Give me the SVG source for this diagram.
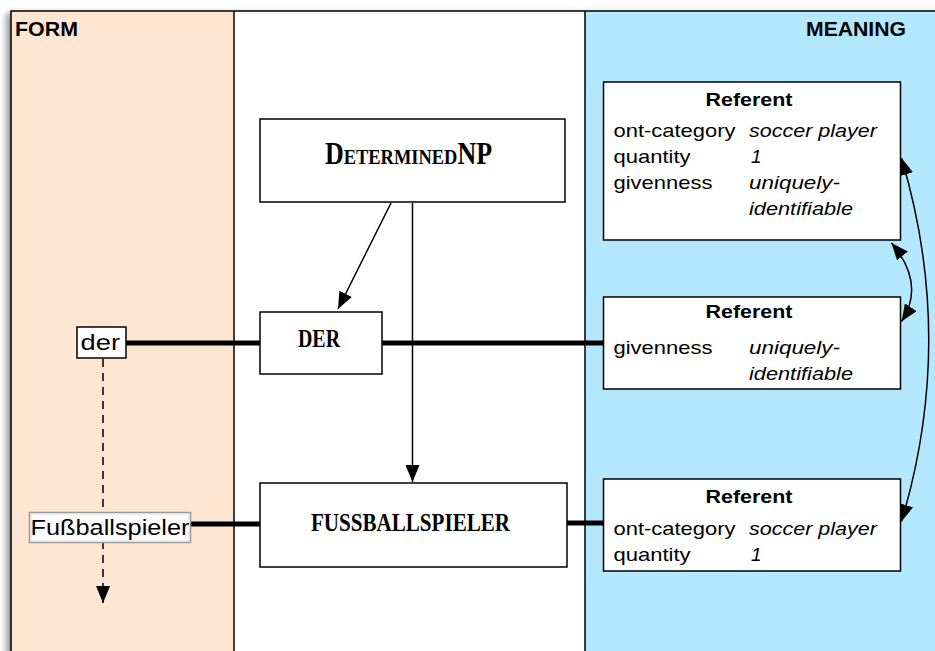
<svg xmlns="http://www.w3.org/2000/svg" width="935" height="651" viewBox="0 0 935 651">
  <style>
    .panel-line { stroke: #000; stroke-width: 1.5; fill: none; }
    .box { fill: #fff; stroke: #000; stroke-width: 1.5; }
    .hdr { font-family: "Liberation Sans", Arial, sans-serif; font-weight: bold; font-size: 20px; fill: #000; }
    .cx { font-family: "Liberation Serif", "Times New Roman", serif; font-weight: bold; fill: #000; }
    .form { font-family: "Liberation Sans", Arial, sans-serif; font-size: 22px; fill: #000; }
    .ref-t { font-family: "Liberation Sans", Arial, sans-serif; font-weight: bold; font-size: 19px; fill: #000; text-anchor: middle; }
    .attr { font-family: "Liberation Sans", Arial, sans-serif; font-size: 19px; fill: #000; }
    .val { font-family: "Liberation Sans", Arial, sans-serif; font-size: 19px; font-style: italic; fill: #000; }
    .link { stroke: #000; stroke-width: 5; fill: none; }
    .arrow { stroke: #000; stroke-width: 1.5; fill: none; }
  </style>
  <defs>
    <marker id="head" markerUnits="userSpaceOnUse" markerWidth="18" markerHeight="14" viewBox="0 0 18 14" refX="17" refY="7" orient="auto-start-reverse">
      <path d="M0,0 L17,7 L0,14 Z" fill="#000"/>
    </marker>
    <filter id="shadow" x="-5%" y="-5%" width="110%" height="110%">
      <feGaussianBlur stdDeviation="3"/>
    </filter>
  </defs>

  <rect width="935" height="651" fill="#fff"/>

  <!-- drop shadow of the sheet -->
  <rect x="6" y="13" width="940" height="660" fill="#999" filter="url(#shadow)"/>

  <!-- three columns -->
  <g id="panels">
    <rect x="11" y="11" width="223" height="650" fill="#FFE6D2"/>
    <rect x="234" y="11" width="351" height="650" fill="#fff"/>
    <rect x="585" y="11" width="360" height="650" fill="#B3E8FF"/>
    <path class="panel-line" d="M11,661 V11 H945 M234,11 V661 M585,11 V661"/>
    <text class="hdr" x="15" y="36" textLength="63" lengthAdjust="spacingAndGlyphs">FORM</text>
    <text class="hdr" x="806" y="36" textLength="100" lengthAdjust="spacingAndGlyphs">MEANING</text>
  </g>

  <!-- connectors -->
  <g id="connectors">
    <line class="link" x1="126" y1="343" x2="260" y2="343"/>
    <line class="link" x1="382" y1="343" x2="604" y2="343"/>
    <line class="link" x1="191" y1="524" x2="260" y2="524"/>
    <line class="link" x1="567" y1="523" x2="604" y2="523"/>
    <line class="arrow" x1="391" y1="203" x2="338" y2="309" marker-end="url(#head)"/>
    <line class="arrow" x1="412.5" y1="203" x2="412.5" y2="482" marker-end="url(#head)"/>
    <line class="arrow" x1="103" y1="359" x2="103" y2="603" stroke-dasharray="8,6" marker-end="url(#head)"/>
    <path class="arrow" d="M901.5,158 Q956,340 901.5,521.5" marker-start="url(#head)" marker-end="url(#head)"/>
    <path class="arrow" d="M891.5,243 Q926,284 901.5,321.5" marker-start="url(#head)" marker-end="url(#head)"/>
  </g>

  <!-- constructions -->
  <g id="determinednp">
    <rect class="box" x="260" y="119" width="305" height="83"/>
    <text class="cx" x="325" y="164" font-size="31" font-variant="small-caps" textLength="167" lengthAdjust="spacingAndGlyphs">DeterminedNP</text>
  </g>
  <g id="der-cxn">
    <rect class="box" x="260" y="312" width="122" height="62"/>
    <text class="cx" x="298" y="347" font-size="25" textLength="42" lengthAdjust="spacingAndGlyphs">DER</text>
  </g>
  <g id="fussballspieler-cxn">
    <rect class="box" x="260" y="483" width="307" height="84"/>
    <text class="cx" x="311" y="531" font-size="26" textLength="199" lengthAdjust="spacingAndGlyphs">FUSSBALLSPIELER</text>
  </g>

  <!-- word forms -->
  <g id="form-der">
    <rect class="box" x="77" y="327" width="49" height="31"/>
    <text class="form" x="80.5" y="350" textLength="39.5" lengthAdjust="spacingAndGlyphs">der</text>
  </g>
  <g id="form-fussballspieler">
    <rect x="29.5" y="512.5" width="161" height="30" fill="#fff" stroke="#999" stroke-width="1.5"/>
    <rect x="31" y="514" width="158" height="27" fill="none" stroke="#ddd" stroke-width="1"/>
    <text class="form" x="30.5" y="535" textLength="159" lengthAdjust="spacingAndGlyphs">Fußballspieler</text>
  </g>

  <!-- meaning frames -->
  <g id="referent-1">
    <rect class="box" x="603.5" y="82" width="297" height="158"/>
    <text class="ref-t" x="749" y="106" textLength="87" lengthAdjust="spacingAndGlyphs">Referent</text>
    <text class="attr" x="613.5" y="137" textLength="122" lengthAdjust="spacingAndGlyphs">ont-category</text>
    <text class="val" x="749" y="137" textLength="128" lengthAdjust="spacingAndGlyphs">soccer player</text>
    <text class="attr" x="613.5" y="163" textLength="77" lengthAdjust="spacingAndGlyphs">quantity</text>
    <text class="val" x="751" y="163">1</text>
    <text class="attr" x="613.5" y="189" textLength="99" lengthAdjust="spacingAndGlyphs">givenness</text>
    <text class="val" x="749" y="189" textLength="91" lengthAdjust="spacingAndGlyphs">uniquely-</text>
    <text class="val" x="749" y="215" textLength="104" lengthAdjust="spacingAndGlyphs">identifiable</text>
  </g>
  <g id="referent-2">
    <rect class="box" x="603.5" y="297" width="297" height="92"/>
    <text class="ref-t" x="749" y="318" textLength="87" lengthAdjust="spacingAndGlyphs">Referent</text>
    <text class="attr" x="613.5" y="354" textLength="99" lengthAdjust="spacingAndGlyphs">givenness</text>
    <text class="val" x="749" y="354" textLength="91" lengthAdjust="spacingAndGlyphs">uniquely-</text>
    <text class="val" x="749" y="380" textLength="104" lengthAdjust="spacingAndGlyphs">identifiable</text>
  </g>
  <g id="referent-3">
    <rect class="box" x="603.5" y="479" width="297" height="92"/>
    <text class="ref-t" x="749" y="503" textLength="87" lengthAdjust="spacingAndGlyphs">Referent</text>
    <text class="attr" x="613.5" y="535" textLength="122" lengthAdjust="spacingAndGlyphs">ont-category</text>
    <text class="val" x="749" y="535" textLength="128" lengthAdjust="spacingAndGlyphs">soccer player</text>
    <text class="attr" x="613.5" y="561" textLength="77" lengthAdjust="spacingAndGlyphs">quantity</text>
    <text class="val" x="751" y="561">1</text>
  </g>
</svg>
